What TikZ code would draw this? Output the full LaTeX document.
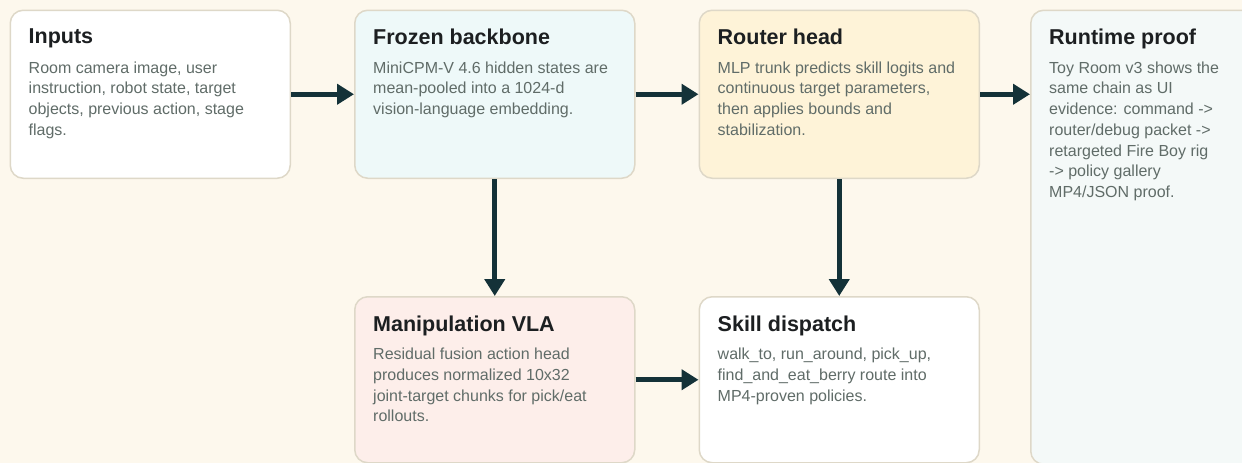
\documentclass[tikz,border=0pt]{standalone}
\usepackage{fontspec}
\setmainfont{Liberation Sans}
\usepackage{xcolor}
\usepackage{tikz}
\usetikzlibrary{arrows.meta, positioning}
\definecolor{canvas}{RGB}{253,248,237}
\definecolor{edge}{RGB}{222,216,200}
\definecolor{ink}{RGB}{20,50,56}
\definecolor{heading}{RGB}{28,31,33}
\definecolor{bodytext}{RGB}{96,108,104}
\definecolor{frozenfill}{RGB}{238,249,249}
\definecolor{routerfill}{RGB}{254,243,216}
\definecolor{prooffill}{RGB}{244,249,248}
\definecolor{vlafill}{RGB}{253,238,234}
\tikzset{
    card/.style={rectangle, draw=edge, line width=1.5pt, rounded corners=13pt, fill=white, minimum width=280pt, minimum height=168pt, inner sep=0pt},
    cardtitle/.style={anchor=north west, inner sep=0pt, text=heading, font=\fontsize{21.5}{25}\selectfont\bfseries},
    cardbody/.style={anchor=north west, inner sep=0pt, text=bodytext, align=left, font=\fontsize{16}{20.7}\selectfont},
    flow/.style={-{Triangle[length=17pt, width=20pt]}, line width=5pt, draw=ink}
}

\begin{document}
\begin{tikzpicture}[x=1pt, y=-1pt, node distance=63pt]
    % Canvas
    \useasboundingbox (0,0) rectangle (1242,463);
    \fill[canvas] (0,0) rectangle (1242,463);
    \clip (0,0) rectangle (1242,463);

    % Top row
    \node[card, anchor=north west] (inputs) at (9.5,9.5) {};
    \node[card, fill=frozenfill, right=of inputs] (frozen) {};
    \node[card, fill=routerfill, right=of frozen] (router) {};

    % Proof panel spans both rows
    \node[card, fill=prooffill, minimum height=454pt, right=50pt of router.north east, anchor=north west] (proof) {};

    % Bottom row
    \node[card, fill=vlafill, minimum height=166pt, below=117pt of frozen.south, anchor=north] (vla) {};
    \node[card, minimum height=166pt, below=117pt of router.south, anchor=north] (dispatch) {};

    % Titles and descriptions
    \node[cardtitle] (inputs-title) at ([xshift=19pt, yshift=-19.5pt]inputs.north west) {Inputs};
    \node[cardbody] (inputs-text) at ([xshift=19pt, yshift=-52pt]inputs.north west)
        {Room camera image, user\\ instruction, robot state, target\\ objects, previous action, stage\\ flags.};

    \node[cardtitle] (frozen-title) at ([xshift=19pt, yshift=-19.5pt]frozen.north west) {Frozen backbone};
    \node[cardbody] (frozen-text) at ([xshift=19pt, yshift=-52pt]frozen.north west)
        {MiniCPM-V 4.6 hidden states are\\ mean-pooled into a 1024-d\\ vision-language embedding.};

    \node[cardtitle] (router-title) at ([xshift=19pt, yshift=-19.5pt]router.north west) {Router head};
    \node[cardbody] (router-text) at ([xshift=19pt, yshift=-52pt]router.north west)
        {MLP trunk predicts skill logits and\\ continuous target parameters,\\ then applies bounds and\\ stabilization.};

    \node[cardtitle] (proof-title) at ([xshift=19pt, yshift=-19.5pt]proof.north west) {Runtime proof};
    \node[cardbody] (proof-text) at ([xshift=19pt, yshift=-52pt]proof.north west)
        {Toy Room v3 shows the\\ same chain as UI\\ evidence: command ->\\ router/debug packet ->\\ retargeted Fire Boy rig\\ -> policy gallery\\ MP4/JSON proof.};

    \node[cardtitle] (vla-title) at ([xshift=19pt, yshift=-19.5pt]vla.north west) {Manipulation VLA};
    \node[cardbody] (vla-text) at ([xshift=19pt, yshift=-52pt]vla.north west)
        {Residual fusion action head\\ produces normalized 10x32\\ joint-target chunks for pick/eat\\ rollouts.};

    \node[cardtitle] (dispatch-title) at ([xshift=19pt, yshift=-19.5pt]dispatch.north west) {Skill dispatch};
    \node[cardbody] (dispatch-text) at ([xshift=19pt, yshift=-52pt]dispatch.north west)
        {walk\_to, run\_around, pick\_up,\\ find\_and\_eat\_berry route into\\ MP4-proven policies.};

    % Connections
    \draw[flow] (inputs) -- (frozen);
    \draw[flow] (frozen) -- (router);
    \draw[flow] (router.east) -- (router.east -| proof.west);
    \draw[flow] (frozen) -- (vla);
    \draw[flow] (router) -- (dispatch);
    \draw[flow] (vla) -- (dispatch);
\end{tikzpicture}
\end{document}
